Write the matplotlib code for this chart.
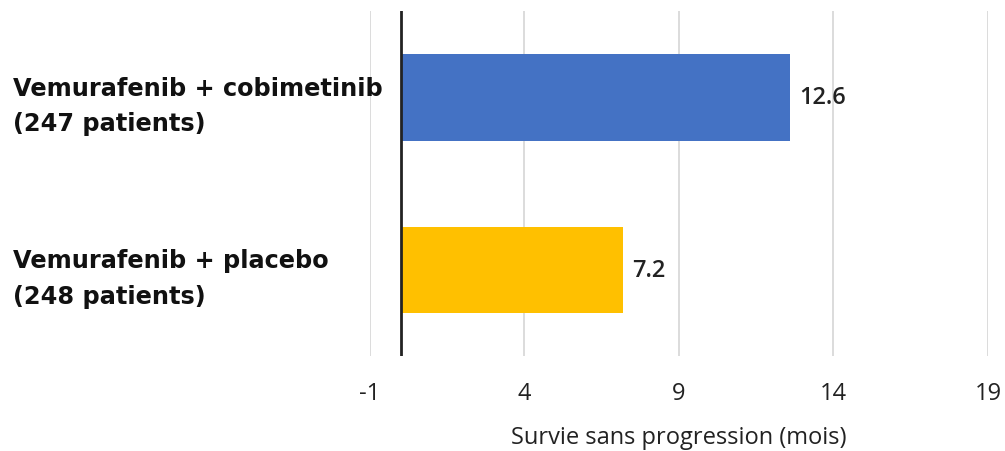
import matplotlib.pyplot as plt

# Data
groups = ['Vemurafenib + cobimetinib\n(247 patients)', 'Vemurafenib + placebo\n(248 patients)']
pfs_months = [12.6, 7.2]
bar_colors = ['#4472C4', '#FFC000']
x_ticks = [-1, 4, 9, 14, 19]

fig = plt.figure(figsize=(10.05, 4.52), dpi=100)
ax = fig.add_axes([0.368, 0.210, 0.615, 0.763])

ypos = list(range(len(groups)))
bars = ax.barh(ypos, pfs_months, height=0.5, color=bar_colors, zorder=2)
ax.set_ylim(1.5, -0.5)
ax.set_xlim(-1, 19)
ax.set_xticks(x_ticks)
ax.set_xticklabels([str(t) for t in x_ticks], fontsize=17, family='Open Sans', color='#222222')
ax.xaxis.grid(True, color='#d9d9d9', lw=1.3, zorder=0)
ax.set_axisbelow(True)
ax.axvline(0, color='#222222', lw=2, zorder=3)

for s in ax.spines.values():
    s.set_visible(False)
ax.tick_params(axis='both', length=0)
ax.tick_params(axis='x', pad=18)
ax.tick_params(axis='y', pad=257)

ax.set_yticks(ypos)
ax.set_yticklabels(groups, fontsize=17.3, fontweight='bold', family='DejaVu Sans',
                   ha='left', linespacing=1.6, color='#111111')

for b, v in zip(bars, pfs_months):
    ax.text(v + 0.3, b.get_y() + b.get_height() / 2, f'{v}', va='center', ha='left',
            fontsize=17, family='Open Sans', fontweight='semibold', color='#222222')

ax.set_xlabel('Survie sans progression (mois)', fontsize=17, family='Open Sans',
              color='#222222', labelpad=14)

fig.savefig('out.png', dpi=100)
